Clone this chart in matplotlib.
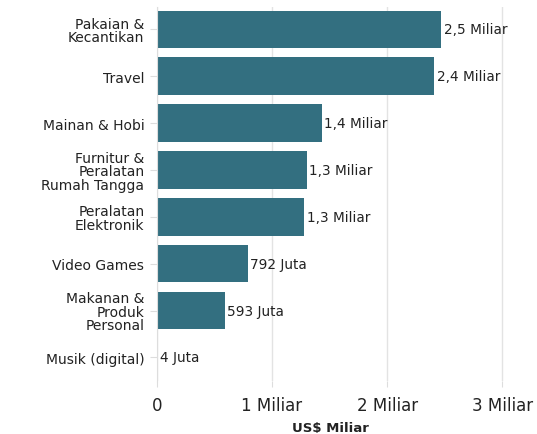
import matplotlib.pyplot as plt

categories = ['Pakaian &\nKecantikan', 'Travel', 'Mainan & Hobi',
              'Furnitur &\nPeralatan\nRumah Tangga', 'Peralatan\nElektronik',
              'Video Games', 'Makanan &\nProduk\nPersonal', 'Musik (digital)']
values = [2.47, 2.41, 1.43, 1.30, 1.28, 0.792, 0.593, 0.004]
value_labels = ['2,5 Miliar', '2,4 Miliar', '1,4 Miliar', '1,3 Miliar',
                '1,3 Miliar', '792 Juta', '593 Juta', '4 Juta']
xticks = [0, 1, 2, 3]
xtick_labels = ['0', '1 Miliar', '2 Miliar', '3 Miliar']

plt.rcParams['font.family'] = ['DejaVu Sans']
fig = plt.figure(figsize=(5.37, 4.35), dpi=100)
ax = fig.add_axes([0.292, 0.122, 0.648, 0.860])

pos = list(range(len(categories)))
ax.barh(pos, values, height=0.8, color='#336f80', zorder=2)
for p, v, lab in zip(pos, values, value_labels):
    ax.text(v + 0.02, p, lab, va='center', ha='left', fontsize=9.8, color='#222222')

ax.set_ylim(len(categories) - 0.5, -0.48)
ax.set_xlim(0, 3.02)
ax.set_yticks(pos)
ax.set_yticklabels(categories, fontsize=10, color='#222222', linespacing=0.95)
ax.set_xticks(xticks)
ax.set_xticklabels(xtick_labels, fontsize=12, color='#222222')
ax.tick_params(axis='y', length=5, color='#dddddd', pad=4)
ax.tick_params(axis='x', length=4, color='#dddddd', pad=7)
ax.grid(axis='x', color='#e3e3e3', linewidth=1, zorder=0)
for s in ['top', 'right', 'bottom']:
    ax.spines[s].set_visible(False)
ax.spines['left'].set_color('#dddddd')
ax.set_xlabel('US$ Miliar', fontsize=9.5, fontweight='bold', color='#222222', labelpad=5)

fig.savefig('out.png', dpi=100)
